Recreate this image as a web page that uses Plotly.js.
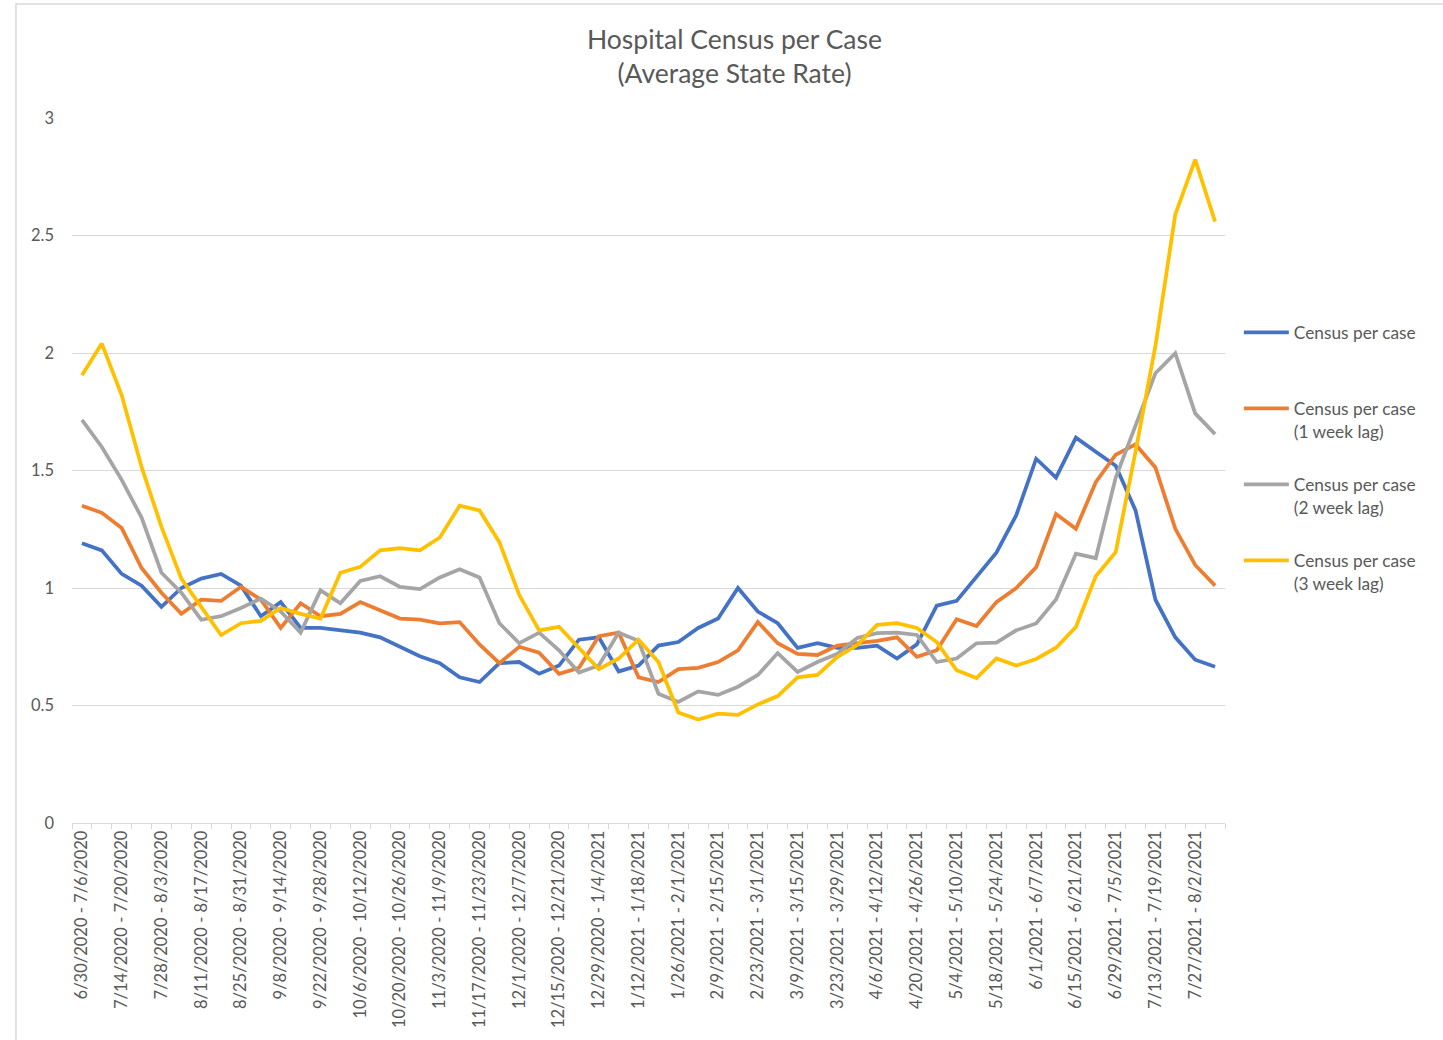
<!DOCTYPE html>
<html>
<head>
<meta charset="utf-8">
<script src="https://cdn.plot.ly/plotly-3.0.1.min.js"></script>
<style>html,body{margin:0;padding:0;background:#fff;}#chart{width:1443px;height:1040px;}</style>
</head>
<body>
<div id="chart"></div>
<script>
var weeks = [
"6/30/2020 - 7/6/2020","7/7/2020 - 7/13/2020","7/14/2020 - 7/20/2020","7/21/2020 - 7/27/2020",
"7/28/2020 - 8/3/2020","8/4/2020 - 8/10/2020","8/11/2020 - 8/17/2020","8/18/2020 - 8/24/2020",
"8/25/2020 - 8/31/2020","9/1/2020 - 9/7/2020","9/8/2020 - 9/14/2020","9/15/2020 - 9/21/2020",
"9/22/2020 - 9/28/2020","9/29/2020 - 10/5/2020","10/6/2020 - 10/12/2020","10/13/2020 - 10/19/2020",
"10/20/2020 - 10/26/2020","10/27/2020 - 11/2/2020","11/3/2020 - 11/9/2020","11/10/2020 - 11/16/2020",
"11/17/2020 - 11/23/2020","11/24/2020 - 11/30/2020","12/1/2020 - 12/7/2020","12/8/2020 - 12/14/2020",
"12/15/2020 - 12/21/2020","12/22/2020 - 12/28/2020","12/29/2020 - 1/4/2021","1/5/2021 - 1/11/2021",
"1/12/2021 - 1/18/2021","1/19/2021 - 1/25/2021","1/26/2021 - 2/1/2021","2/2/2021 - 2/8/2021",
"2/9/2021 - 2/15/2021","2/16/2021 - 2/22/2021","2/23/2021 - 3/1/2021","3/2/2021 - 3/8/2021",
"3/9/2021 - 3/15/2021","3/16/2021 - 3/22/2021","3/23/2021 - 3/29/2021","3/30/2021 - 4/5/2021",
"4/6/2021 - 4/12/2021","4/13/2021 - 4/19/2021","4/20/2021 - 4/26/2021","4/27/2021 - 5/3/2021",
"5/4/2021 - 5/10/2021","5/11/2021 - 5/17/2021","5/18/2021 - 5/24/2021","5/25/2021 - 5/31/2021",
"6/1/2021 - 6/7/2021","6/8/2021 - 6/14/2021","6/15/2021 - 6/21/2021","6/22/2021 - 6/28/2021",
"6/29/2021 - 7/5/2021","7/6/2021 - 7/12/2021","7/13/2021 - 7/19/2021","7/20/2021 - 7/26/2021",
"7/27/2021 - 8/2/2021","8/3/2021 - 8/9/2021"
];

var censusPerCase = [
1.19,1.16,1.06,1.01,0.92,1.00,1.04,1.06,1.01,0.88,
0.94,0.83,0.83,0.82,0.81,0.79,0.75,0.71,0.68,0.62,
0.60,0.68,0.685,0.635,0.67,0.78,0.79,0.645,0.67,0.755,
0.77,0.83,0.87,1.00,0.90,0.85,0.745,0.765,0.745,0.745,
0.755,0.70,0.76,0.925,0.945,1.045,1.15,1.31,1.55,1.47,
1.64,1.58,1.52,1.33,0.95,0.79,0.695,0.665
];

var lag1Week = [
1.35,1.32,1.255,1.085,0.98,0.89,0.95,0.945,1.005,0.95,
0.83,0.935,0.88,0.89,0.94,0.905,0.87,0.865,0.85,0.855,
0.76,0.68,0.75,0.725,0.635,0.66,0.795,0.81,0.62,0.60,
0.655,0.66,0.685,0.735,0.855,0.765,0.72,0.715,0.755,0.765,
0.775,0.79,0.707,0.735,0.867,0.838,0.94,1.00,1.088,1.315,
1.252,1.45,1.567,1.611,1.513,1.252,1.098,1.01
];

var lag2Week = [
1.715,1.60,1.46,1.30,1.065,0.98,0.865,0.88,0.915,0.955,
0.90,0.81,0.99,0.935,1.03,1.05,1.005,0.995,1.045,1.08,
1.045,0.85,0.765,0.81,0.735,0.64,0.67,0.81,0.775,0.55,
0.515,0.56,0.545,0.58,0.63,0.723,0.643,0.685,0.72,0.787,
0.808,0.81,0.80,0.685,0.70,0.765,0.768,0.82,0.849,0.951,
1.146,1.127,1.469,1.69,1.914,1.999,1.743,1.655
];

var lag3Week = [
1.905,2.04,1.82,1.515,1.26,1.04,0.92,0.80,0.85,0.86,
0.915,0.89,0.87,1.065,1.09,1.16,1.17,1.16,1.215,1.35,
1.33,1.195,0.97,0.82,0.835,0.745,0.655,0.70,0.78,0.685,
0.47,0.44,0.465,0.46,0.505,0.54,0.62,0.63,0.707,0.757,
0.843,0.85,0.83,0.77,0.65,0.617,0.70,0.67,0.698,0.746,
0.834,1.05,1.152,1.58,2.03,2.59,2.823,2.559
];

var seriesNames = ["Census per case<br> ", "Census per case<br>(1 week lag)", "Census per case<br>(2 week lag)", "Census per case<br>(3 week lag)"];
var seriesColors = ["#4472C4", "#ED7D31", "#A5A5A5", "#FFC000"];
var seriesValues = [censusPerCase, lag1Week, lag2Week, lag3Week];

var tickText = weeks.map(function (w, i) { return i % 2 === 0 ? w : ""; });

var traces = seriesValues.map(function (vals, k) {
  return {
    type: "scatter",
    mode: "lines",
    x: weeks,
    y: vals,
    name: seriesNames[k],
    legendgroup: "g" + k,
    line: { color: seriesColors[k], width: 3.75, shape: "linear" },
    hoverinfo: "x+y"
  };
});

var font = "Lato, 'Open Sans', 'Liberation Sans', sans-serif";
var layout = {
  width: 1443,
  height: 1040,
  paper_bgcolor: "#ffffff",
  plot_bgcolor: "#ffffff",
  margin: { l: 72, r: 218, t: 118, b: 217 },
  font: { family: font, color: "#595959" },
  title: {
    text: "Hospital Census per Case<br>(Average State Rate)",
    font: { family: font, size: 26.5, color: "#595959" },
    xref: "container", x: 0.509, xanchor: "center",
    yref: "container", y: 0.953, yanchor: "top"
  },
  xaxis: {
    type: "category",
    tickmode: "array",
    tickvals: weeks,
    ticktext: tickText,
    tickangle: -90,
    tickson: "boundaries",
    ticks: "outside",
    ticklen: 5,
    tickcolor: "#D9D9D9",
    tickfont: { family: font, size: 16.5, color: "#595959" },
    showline: true,
    linecolor: "#D9D9D9",
    linewidth: 1,
    showgrid: false,
    zeroline: false,
    range: [-0.5, weeks.length - 0.5]
  },
  yaxis: {
    range: [0, 3],
    dtick: 0.5,
    tick0: 0,
    showgrid: true,
    gridcolor: "#D9D9D9",
    gridwidth: 1,
    zeroline: false,
    showline: false,
    ticks: "",
    ticklabelstandoff: 17,
    tickfont: { family: font, size: 16.5, color: "#595959" }
  },
  showlegend: true,
  legend: {
    x: 1.012, xanchor: "left",
    y: 0.721, yanchor: "top",
    valign: "top",
    itemwidth: 45,
    tracegroupgap: 28,
    font: { family: font, size: 17.3, color: "#595959" },
    bgcolor: "rgba(0,0,0,0)"
  },
  shapes: [{
    type: "rect", xref: "paper", yref: "paper",
    x0: -0.0486, x1: 1.1908, y0: -0.3149, y1: 1.1617,
    line: { color: "#D9D9D9", width: 1.5 },
    fillcolor: "rgba(0,0,0,0)", layer: "below"
  }]
};

Plotly.newPlot("chart", traces, layout, { displayModeBar: false, staticPlot: true });
</script>
</body>
</html>
